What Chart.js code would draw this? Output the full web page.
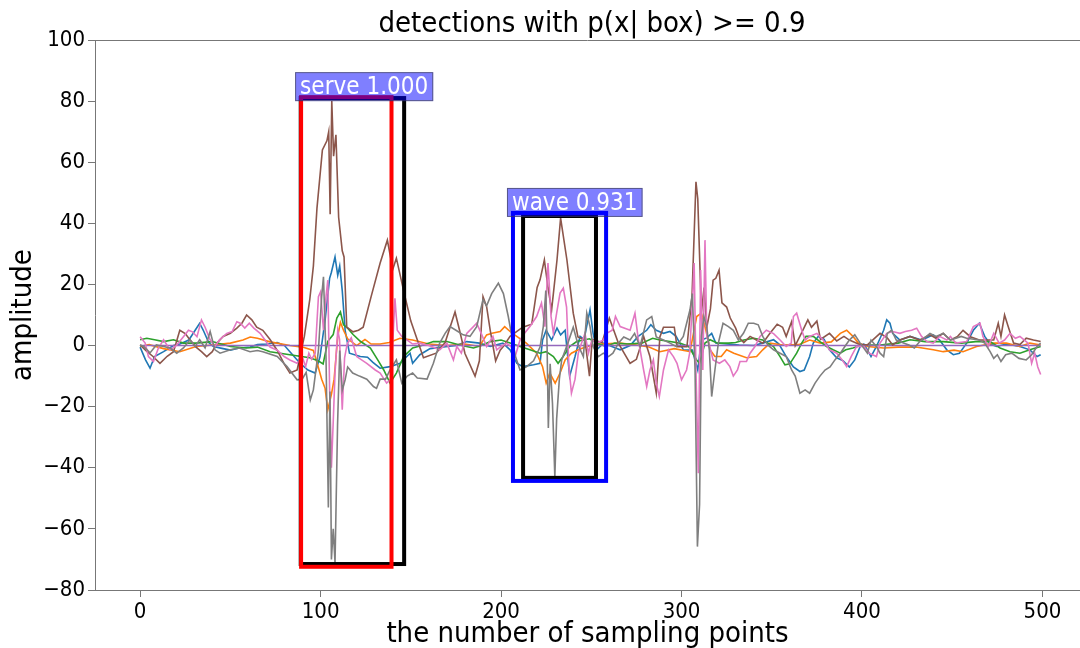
<!DOCTYPE html>
<html lang="en">
<head>
  <meta charset="UTF-8" />
  <title>detections with p(x| box) >= 0.9</title>
  <script src="https://cdn.jsdelivr.net/npm/chart.js"></script>
  <style>
    html, body { margin: 0; padding: 0; background: #fff; }
    canvas { display: block; }
  </style>
</head>
<body>
  <canvas id="sig" width="1080" height="648"></canvas>

  <script>
    // points, [sample, amplitude]
    const blue = [[0,-0.5],[3,-4.7],[5.5,-7.4],[8,-3.6],[13,-2],[18.5,0],[22,0.5],[27,1.8],[30.5,5],[33,7.3],[35,5],[38,1],[40.6,-0.3],[46,-1],[50,-1.5],[55,-0.8],[61,-0.5],[65,0.3],[70,0.5],[76,1],[80,0],[83,-2],[88.6,-5.8],[93,-8],[97,-9],[99.7,-3.6],[102.5,8.3],[105,22],[106,24],[108,29],[109.5,23],[110.6,26],[112,18],[113.6,5],[116,-2.5],[122,-3.6],[126,-3.8],[129,-5.5],[133,-7.4],[138.5,-6.9],[144,-5.8],[149.6,-2.5],[151,-5.8],[155,-3],[160.7,-1],[167,-0.5],[175,0],[181,1.3],[188,0.8],[194,-0.3],[201,0.8],[205,-1.4],[208.7,-5.8],[212,-6.9],[218,-6.3],[221.6,-5.8],[223,1.8],[225,5],[228,1.8],[231,5.7],[233,3.5],[235.5,5],[238,-10],[241,-3.6],[243.8,3],[246,2],[249.3,11.7],[251,4],[253,-1.4],[256.7,0.8],[260,0],[266,-1.4],[271.5,0],[276,3],[280.7,5],[283,6.8],[286,5],[290,4],[293.6,4.6],[297,3],[301,-1.4],[306,-1.5],[309,-8],[311,1.8],[314,2.5],[316.7,4],[319,0.8],[325,0.5],[332,0.2],[340,0],[345,0.8],[351,1.9],[354,0.5],[358,-3.6],[362,-7],[365.6,-8.5],[368,-8],[371,-3.6],[373,0.8],[375.8,3],[379,2],[382,-1.4],[386,-4],[389.6,-5],[393,-7],[396,-4.7],[399,-0.3],[401,0.5],[403,-1.4],[405,-3.6],[408,-0.3],[412,5],[413.7,8.4],[415.5,7.3],[417,4],[421,1.8],[426.6,3],[433,1.8],[439.5,3.5],[443,1.8],[447,-1.4],[450.6,-3],[454,-2.5],[458,0.8],[461.7,5],[465,7.3],[468,3],[471,0.5],[474.6,-0.3],[480,0.5],[487.5,-0.3],[493,-1.4],[497,-3.6],[499,-3]];
    const orange = [[0,-0.3],[5,0.3],[13,-1],[22,-2],[31,-0.3],[40,0.2],[50,0.8],[57,1.8],[61,2.8],[65,2.4],[72,1.2],[83,0],[90,-0.5],[96,-1.6],[98.7,-7],[100.6,-11],[102.5,-14],[104,-21],[106,-16],[107.5,-11],[109.5,3],[111,7.6],[112.7,5],[115,2.2],[120,0],[124.6,2],[128,0.5],[133,0.5],[138,1],[144,2.4],[151,1.8],[160,0.5],[170,0],[180,0.5],[188,-0.3],[192,3.5],[195,4],[199.5,4.6],[202,6.2],[205,4.6],[208.7,3],[214,0.8],[219.7,-2.5],[223,-6.9],[225,-12.3],[227,-9],[230,-12.3],[232.7,-9],[235.5,-4.7],[239,-2.5],[242.8,-1.4],[247.5,-0.3],[255,0.5],[266,0.8],[275,0.2],[282,-0.5],[288,-2],[296,-1],[304.7,-2],[308.4,9.5],[311,10.6],[313.5,5],[315.8,-1.4],[318.5,-3.6],[322,-3.6],[325,-1.4],[329,-2.5],[336,-4],[341.6,-3.6],[345,-1.4],[349,0.8],[356,0.2],[365,0.3],[371,1.8],[377,0.8],[383,1.2],[388,4],[391.5,5],[395,3],[398,0.8],[403,-0.3],[412,-0.8],[420,-0.5],[430,-0.5],[439.5,-1.4],[445,-2],[451,-1.5],[456,-2],[463.5,-0.3],[473,0.8],[480,0.8],[487.5,-0.3],[493,0.8],[499,0.2]];
    const green = [[0,1.9],[3.7,2.4],[8,1.9],[13,1.3],[18.5,1.9],[24,0.8],[31,0.8],[40,1.3],[50,-0.3],[59,-0.8],[65,-0.5],[72,-2],[83,-3],[94,-4],[98.6,-5],[101.4,-6],[104,1.4],[107,3.6],[109,9],[111,11],[112.7,6.8],[115,5.7],[118,3.6],[122,1.4],[127.6,-0.8],[132,-5],[135,-8],[138.5,-12.3],[142,-9],[146,-3.6],[151,-0.8],[157,0.2],[162.5,1.3],[170,1.3],[177,0.2],[184.7,-0.8],[190,0.2],[194,1.3],[200,1.8],[205,0.8],[210.5,-0.3],[216,-1.4],[221.6,-2.5],[225,-2],[229,-3.6],[231.6,-5.8],[234.4,-3.6],[238,-0.3],[241.9,1.3],[245.6,1.8],[249,2.2],[253,0.8],[258,-0.3],[263,0.8],[270,0.5],[278,0.8],[284,2.4],[288,1.8],[293.6,1.3],[299,0.8],[304,-0.3],[308.4,-4.7],[310,-5.8],[313,0.8],[315.8,1.9],[320,0.8],[326,0.8],[330,1],[334.5,1.8],[340,2.4],[345,1.8],[351,-0.3],[354.6,-3.6],[357.3,-6.3],[360,-6],[363.8,-2.5],[366.6,0.8],[369,3],[373,3],[376.7,1.3],[380.4,-0.3],[384,-1.4],[388,-2.5],[391,-1.4],[395,-0.8],[400,0.2],[410,0.2],[420,0.8],[426.6,1.9],[435,1.3],[445,1.3],[455,0.8],[463,1.3],[471,1.3],[476.5,-0.8],[482,-2],[487.5,-2.5],[493,-1.4],[499,-0.3]];
    const purple = [[0,0],[100,0],[200,0],[300,0],[400,0],[499,0]];
    const brown = [[0,0.2],[3.7,-1.9],[7,-3.5],[11,-5.8],[15,-3.5],[18.5,-2],[22,5],[25,3.9],[27.7,1.8],[31,-0.5],[34,-2],[36.9,-3.6],[40,-2],[42.5,0.8],[46,3],[50,4],[53.6,5.7],[56.4,7.3],[59,10],[61.9,8.4],[64.6,6],[68,5],[72,2],[76,-1.6],[79.8,-6],[83,-9],[87,-8],[91,3],[94,15],[96,26],[98,45],[101,64],[103.5,67],[104.5,70],[105.3,43],[106.2,80],[107.2,62],[108.5,69],[110,42],[112,31],[113,29],[114.5,6],[118,4.5],[121,5],[123.6,6],[128,16],[133,27],[137,34.5],[140,25],[142,28.6],[146,18],[150,8],[157,-4],[164,-2.5],[169,1],[174.5,11],[177,5],[180,-2.6],[185.6,-10],[188,-5],[190,16],[192,12.7],[194,5],[197,-5],[199.5,-1.5],[201,-0.5],[205,3],[212,6],[217,7],[220,19],[221.6,21.5],[224,28],[226,19],[228,11.6],[231,28],[233,41.7],[236.5,28],[240,10.6],[242.6,2.8],[246.5,1.8],[249,-10],[250.5,2],[256,1],[260,9],[265,0.8],[271.5,-5.8],[275,-4.5],[279,3],[282.5,-3.6],[286,-15.5],[288,2.8],[290,6],[296,6],[297.5,-0.4],[303,-0.4],[305.8,16],[308,53.6],[309,48],[311,10.7],[312.5,19],[314,6],[316,12],[317.5,21.4],[319,22],[320.8,24.7],[322.4,14],[325,12.6],[327,9],[330,5.7],[332,2.5],[334.5,1],[338,3],[341,2],[345,0.8],[349,4],[353,7],[356,6],[358,3],[361,7.8],[363,0],[367,4.7],[370,8.4],[372,6],[375,8],[377,2],[382,4],[386,1.5],[390,3],[393,1.8],[398,0.5],[403,0.2],[408,2.9],[410,4],[414,2.5],[417,0.2],[421,1.8],[426.6,3],[432,1.8],[437.7,3.5],[441,2.4],[445,4],[449,1.8],[453,3],[456,5],[460,2.9],[465,1.8],[470,1.8],[473,1.8],[475.5,7.3],[477,3],[479,10],[481,6.2],[484,0.8],[487.5,0.3],[491,2.4],[495,1.8],[499,1.3]];
    const pink = [[0,2.9],[2.8,0.8],[4.6,-3.6],[7.4,-5.2],[10,-1],[13,1.9],[16.6,-1.4],[20,0],[24,2.9],[26.8,5],[29,4.5],[31.5,2.9],[34,8.4],[36,6],[38.8,1.9],[41.5,-0.3],[44,1.9],[48,4],[51,4.6],[53.6,7.8],[55.5,7.3],[58,5.7],[60.5,7.3],[63,5.7],[66.5,4],[68,2.8],[72,-0.5],[76,-1.5],[79.8,-3.6],[83,-4.7],[87,-5.8],[89.8,-3.6],[91.7,-6.9],[93.5,-2.5],[95,-4.5],[97,-2.5],[98.8,16],[100,17.6],[101.6,5],[103,16],[104,21.4],[105,-14],[106,-40],[107,-25],[108,-9],[109.5,5],[110.5,2],[112,-21],[113.3,-4],[114.8,0.7],[117,2.5],[120,-3.6],[125.6,-5.8],[130.3,-8],[133,-9],[136.6,-12.3],[139,-11],[141.2,15.5],[142.5,5],[145,3],[148,1.8],[151,0.5],[155,0.8],[160,0],[166,-1.4],[170,0.8],[173.6,-4.7],[175.5,-0.3],[178,-2.5],[181,4],[184.7,6.2],[186.5,7.3],[189,4],[192,-0.3],[195.5,3],[197.6,-1.4],[200,-0.3],[203,0.8],[205.5,-0.3],[207.8,-3.6],[210.5,1.8],[213,4],[216,6.2],[219.7,9.5],[222.4,13.9],[224.3,6.2],[226,27],[227.7,9.5],[229,4],[230.8,10.6],[232.7,17.2],[234.5,18.8],[236.3,12.6],[237.6,-6.9],[239,-15.6],[241,-11],[242.8,-2.5],[244.6,0.8],[246.5,4],[248.4,-2.5],[250.3,1.8],[253,0.8],[256.7,1.8],[258.5,4],[261.6,5],[263.4,9.5],[266,6.2],[271.5,5],[274.2,10.6],[276,2.2],[279,-8],[280.7,-13.4],[282.5,-8],[284.4,-4.7],[286,-12.3],[287.7,-16.7],[290,-8],[292.8,-1.4],[295.5,-3.6],[297.5,-5.8],[300,-11.2],[302.8,-8],[304.5,-2.5],[306,14],[307,27],[308,-8],[309.3,-41.8],[310.6,24.7],[311.8,-8],[313,34.5],[314,3],[315.5,0],[317.5,-4.7],[321,-5.8],[324,-4.7],[326.8,-6.9],[328.7,-10],[331,-8],[332.4,-5.2],[336,-5.2],[338,-2.5],[340.7,-0.3],[343.5,3],[347,5],[351,3.9],[354.6,1.8],[358,-0.3],[360.8,0.8],[362,9.5],[363.8,10.6],[366.6,5],[368.5,1.8],[371,3],[375,4],[378.5,1.8],[382,-1.4],[386,-2.5],[389,-4.7],[391.5,-6.9],[394,-3.6],[397,-0.3],[401,-0.3],[404,-2.5],[408,-3.6],[410,0.8],[413.7,4],[417,4.6],[421,4],[424,4.6],[427.5,5],[430.3,5.7],[433,3],[436,1.3],[439.5,0.8],[443,3],[447,1.8],[449,3],[452,0.8],[458,1.3],[461.7,6.2],[465.4,7.3],[467,3],[470,-0.3],[473,4],[476,0.8],[479,1.8],[482,4],[485,2.4],[487.5,3],[490,1.8],[492,0.8],[494,-5.8],[495.7,-2.5],[497.4,-7],[499,-9.5]];
    const gray = [[0,0.2],[2,-0.3],[5.5,-2.4],[9,0.2],[13,-0.3],[16.6,-0.8],[20.3,-2.5],[24,-0.8],[27.7,1.9],[30.5,-0.3],[33,1.9],[36,-0.8],[38.8,4.6],[41.5,-1.4],[44.3,-2.5],[50,-1.4],[55,-0.8],[60.9,-2],[65,-1.6],[68,-2],[76,-3.6],[81.4,-6.9],[87,-11.2],[89.8,-11],[92,-8.8],[94.3,-17.8],[96,-14.5],[98.8,-1.6],[100.6,16],[101.6,22.5],[103,-3.6],[104.3,-53],[105.2,-15],[106,-70],[107,-60],[108,-71],[109.4,-26],[110.6,-1.6],[112,-14.6],[113.6,-11.2],[115,-7],[117.8,-9],[121.5,-10],[125.6,-11],[129.3,-13.4],[131,-14],[133,-11],[136,-11],[138.5,-8],[142,-4.7],[145,-12.3],[148,-10],[151,-9],[153.6,-10.6],[159,-11],[162.5,-5.8],[166,0.8],[169,4],[171.7,6.2],[175,5],[179,3.5],[182.8,3],[186.5,6.2],[190,15],[192,13],[194.8,17],[198.5,20.4],[201.3,17],[204,9.5],[208,-3.6],[210.5,-8],[214,-7],[218,-5],[221.6,-0.5],[223.4,6.2],[224.8,18],[225.5,0],[226.2,-27],[227.2,-6],[228.5,-19],[229.8,-43],[230.8,-24],[232.3,-11],[233.6,-4.7],[237,0.8],[240,6],[242.8,0],[245.6,-3.6],[247.5,10.6],[249.3,6.2],[251,-0.3],[253.9,-3.6],[256.7,-2.5],[259.5,-3.6],[262,-2.5],[265,0.8],[268,2.8],[271.5,1.8],[274,4],[277,-0.3],[280.7,8.4],[283.5,9.5],[286,2.8],[290,1.8],[293.6,0.8],[297,-0.3],[301,3],[304.7,11.7],[306,17],[307.5,-8],[308.8,-65.8],[310,-52],[311,3],[312.4,9.5],[314,6],[315.4,-1.4],[316.7,-16.7],[318.5,-8],[320.4,0.8],[323,7.3],[326,6.2],[328.7,5],[331.5,1.8],[334.3,4],[337,7.3],[340,7.3],[342.5,6.8],[345,3],[347.8,0.2],[351,-1.4],[354.6,-2.5],[358,-3.6],[361,-8],[363,-10],[365.6,-15.6],[368.5,-14.5],[371,-15.6],[374,-12.3],[376.7,-10],[379.5,-8],[382.3,-7],[385,-4.7],[388,-2.5],[390.5,-0.3],[393,1.8],[396,3.5],[399,0.8],[403,-2.5],[405,1.8],[408,-0.3],[410,-2.5],[412,-3.6],[414,4],[416.4,5],[419,1.8],[423,0.8],[426,0.2],[429,-0.8],[432,1.3],[437.7,4],[441,3],[445,4],[449,1.8],[455,3],[458,2.4],[465,1.8],[468,0.8],[471,-2],[473,-4.2],[475,-3],[477,-5.2],[479.6,-3],[483,-2.5],[487,-4.2],[491,-4.7],[494,-3],[497,-0.3],[499,0.8]];

    const seriesList = [blue, orange, green, purple, brown, pink, gray];
    const seriesColors = ['#1f77b4', '#ff7f0e', '#2ca02c', '#9467bd', '#8c564b', '#e377c2', '#7f7f7f'];

    // detection boxes: [x1, x2, y1(top), y2(bottom)]
    const boxes = [[89, 146.3, 81, -71.5], [89.2, 139.3, 81.3, -72.4], [212.2, 252.6, 42.4, -43.3], [206.6, 258.2, 43.4, -44.3]];
    const boxColors = ['#000000', '#ff0000', '#000000', '#0000ff'];
    const boxLabels = ['', 'serve 1.000', '', 'wave 0.931'];

    const xTicks = [0, 100, 200, 300, 400, 500];
    const yTicks = [-80, -60, -40, -20, 0, 20, 40, 60, 80, 100];

    const FONT = "'DejaVu Sans Condensed', 'DejaVu Sans', sans-serif";
    const minus = v => (v < 0 ? '\u2212' + Math.abs(v) : String(v));

    const decor = {
      id: 'decor',
      afterDatasetsDraw(chart) {
        const { ctx, scales: { x, y } } = chart;
        ctx.save();
        ctx.lineWidth = 4;
        boxes.forEach((b, i) => {
          ctx.strokeStyle = boxColors[i];
          const l = x.getPixelForValue(b[0]), r = x.getPixelForValue(b[1]);
          const t = y.getPixelForValue(b[2]), btm = y.getPixelForValue(b[3]);
          ctx.strokeRect(l, t, r - l, btm - t);
        });
        ctx.font = '24px ' + FONT;
        ctx.textBaseline = 'alphabetic';
        boxes.forEach((b, i) => {
          if (!boxLabels[i]) return;
          const l = x.getPixelForValue(b[0]) - 6;
          const btm = y.getPixelForValue(b[2]) + 4;
          const w = ctx.measureText(boxLabels[i]).width + 10;
          const h = 29;
          ctx.fillStyle = 'rgba(0,0,255,0.5)';
          ctx.fillRect(l, btm - h, w, h);
          ctx.lineWidth = 1;
          ctx.strokeStyle = 'rgba(60,60,60,0.6)';
          ctx.strokeRect(l + 0.5, btm - h + 0.5, w - 1, h - 1);
          ctx.fillStyle = '#ffffff';
          ctx.textAlign = 'left';
          ctx.fillText(boxLabels[i], l + 5, btm - 7);
        });
        ctx.restore();
      },
      afterDraw(chart) {
        const { ctx, chartArea: a } = chart;
        ctx.save();
        ctx.strokeStyle = '#777';
        ctx.lineWidth = 1;
        ctx.beginPath();
        ctx.moveTo(a.left, a.top + 0.5);
        ctx.lineTo(a.right, a.top + 0.5);
        ctx.stroke();
        ctx.fillStyle = '#000';
        ctx.font = '29px ' + FONT;
        ctx.textAlign = 'center';
        ctx.textBaseline = 'middle';
        ctx.fillText('detections with p(x| box) >= 0.9', 592, 24);
        ctx.restore();
      }
    };

    const datasets = seriesList.map((s, i) => ({
      data: s.map(p => ({ x: p[0], y: p[1] })),
      borderColor: seriesColors[i],
      borderWidth: 1.6,
      pointRadius: 0,
      showLine: true,
      fill: false,
      tension: 0,
      order: seriesList.length - i
    }));

    new Chart(document.getElementById('sig'), {
      type: 'scatter',
      data: { datasets },
      options: {
        responsive: false,
        animation: false,
        devicePixelRatio: 1,
        layout: { padding: { top: 40, right: 0, left: 0, bottom: 0 } },
        plugins: { legend: { display: false }, tooltip: { enabled: false } },
        scales: {
          x: {
            type: 'linear',
            min: -25,
            max: 520.8,
            afterFit: s => { s.height = 58; },
            afterBuildTicks: s => { s.ticks = xTicks.map(v => ({ value: v })); },
            ticks: { color: '#000', font: { size: 22, family: FONT }, padding: 2, maxRotation: 0, callback: minus },
            grid: { drawOnChartArea: false, tickLength: 7, tickColor: '#777' },
            border: { color: '#777', width: 1 },
            title: { display: true, text: 'the number of sampling points', color: '#000', font: { size: 29, family: FONT }, padding: { top: 0, bottom: -4 } }
          },
          y: {
            min: -80,
            max: 100,
            afterFit: s => { s.width = 95; },
            afterBuildTicks: s => { s.ticks = yTicks.map(v => ({ value: v })); },
            ticks: { color: '#000', font: { size: 22, family: FONT }, padding: 3, callback: minus },
            grid: { drawOnChartArea: false, tickLength: 7, tickColor: '#777' },
            border: { color: '#777', width: 1 },
            title: { display: true, text: 'amplitude', color: '#000', font: { size: 29, family: FONT }, padding: { top: 6, bottom: 0 } }
          }
        }
      },
      plugins: [decor]
    });
  </script>
</body>
</html>
